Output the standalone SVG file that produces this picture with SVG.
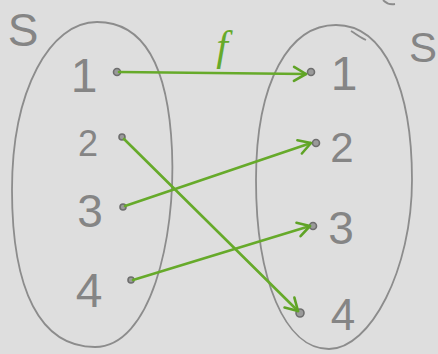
<svg xmlns="http://www.w3.org/2000/svg" width="438" height="354" viewBox="0 0 438 354">
<style>
.oval{fill:none;stroke:#8c8c8c;stroke-width:1.8}
.lbl{font-family:"Liberation Sans",Arial,sans-serif;fill:#858585;text-anchor:middle}
.dot{fill:#9a9a9a;stroke:#6e6e6e;stroke-width:1.6}
.edge{fill:none;stroke:#66aa2a;stroke-width:2.6;stroke-linecap:round}
</style>
<defs>
<marker id="ah" viewBox="-14 -9 16 18" markerWidth="16" markerHeight="18" refX="0" refY="0" orient="auto" markerUnits="userSpaceOnUse">
<path d="M-12,-7 L0,0 L-12,7" fill="none" stroke="#5fa326" stroke-width="2.6" stroke-linecap="round" stroke-linejoin="round"/>
</marker>
</defs>
<rect width="438" height="354" fill="#dedede"/>
<g id="setA">
<path class="oval" d="M97,22 C140,22 168,60 172,150 C176,240 150,347 95,347 C40,347 12,290 12,190 C12,90 50,22 97,22 Z"/>
<text class="lbl" x="23" y="46" font-size="46">S</text>
</g>
<g id="setB">
<path class="oval" d="M336,25 C385,25 412,90 412,180 C412,270 370,349 329,349 C285,349 256,280 256,180 C256,80 290,25 336,25 Z"/>
<path class="oval" d="M351,31 C356,34 361,38 366,40"/>
<text class="lbl" x="423" y="62" font-size="42">S</text>
</g>
<path class="oval" d="M383,0 C386,3 390,5 395,4"/>
<g id="a1"><circle class="dot" cx="117" cy="72" r="3.5" fill="#666"/><text class="lbl" x="84" y="92" font-size="48">1</text></g>
<g id="a2"><circle class="dot" cx="122" cy="137" r="3"/><text class="lbl" x="88" y="156" font-size="36">2</text></g>
<g id="a3"><circle class="dot" cx="123" cy="207" r="3"/><text class="lbl" x="90" y="227" font-size="46">3</text></g>
<g id="a4"><circle class="dot" cx="131" cy="280" r="3"/><text class="lbl" x="89" y="307" font-size="48">4</text></g>
<g id="b1"><circle class="dot" cx="311" cy="72" r="3.5"/><text class="lbl" x="344" y="90" font-size="48">1</text></g>
<g id="b2"><circle class="dot" cx="316" cy="143" r="3.5"/><text class="lbl" x="342" y="162" font-size="42">2</text></g>
<g id="b3"><circle class="dot" cx="313" cy="226" r="3.5"/><text class="lbl" x="341" y="244" font-size="46">3</text></g>
<g id="b4"><circle class="dot" cx="300" cy="313" r="4"/><text class="lbl" x="343" y="330" font-size="44">4</text></g>
<g id="connectors">
<path class="edge" marker-end="url(#ah)" d="M119,72 L306,74"/>
<path class="edge" marker-end="url(#ah)" d="M124,139 L298,311"/>
<path class="edge" marker-end="url(#ah)" d="M125,206 L311,143"/>
<path class="edge" marker-end="url(#ah)" d="M133,280 L310,226"/>
<text x="222" y="60" font-family="'Liberation Serif',serif" font-style="italic" font-size="42" fill="#66aa2a" text-anchor="middle">f</text>
</g>
</svg>
